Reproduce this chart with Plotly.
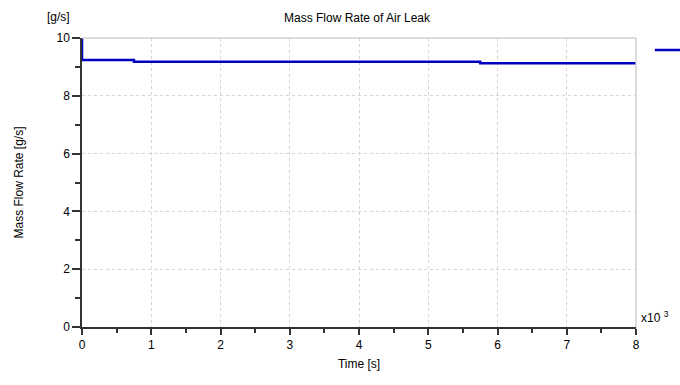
import plotly.graph_objects as go

# Data (time in seconds, mass flow in g/s)
time_s = [0, 0, 750, 5750, 8000]
flow_gs = [10.0, 9.24, 9.18, 9.13, 9.13]

x_tick_vals = [0, 1000, 2000, 3000, 4000, 5000, 6000, 7000, 8000]
x_tick_text = ["0", "1", "2", "3", "4", "5", "6", "7", "8"]
y_tick_vals = [0, 2, 4, 6, 8, 10]

FONT = "Liberation Sans"
AXIS = "#333333"
GRID = "#d4d4d4"

fig = go.Figure()
fig.add_trace(go.Scatter(
    x=time_s, y=flow_gs, mode="lines", line=dict(color="#0000c0", width=2.5, shape="hv"),
    name=" ", showlegend=True,
))

fig.update_layout(
    width=680, height=385,
    margin=dict(l=82, r=44, t=38, b=58, autoexpand=False),
    paper_bgcolor="white", plot_bgcolor="white",
    font=dict(family=FONT, size=12, color="#000000"),
    title=dict(text="Mass Flow Rate of Air Leak", x=357/680, xanchor="center",
               y=1 - 18/385, yanchor="middle", font=dict(size=12, family=FONT)),
    legend=dict(x=1.025, xanchor="left", y=1 - 12/289, yanchor="middle",
                bgcolor="rgba(0,0,0,0)", font=dict(size=12), itemwidth=30,
                tracegroupgap=0),
    showlegend=True,
)

fig.update_xaxes(
    range=[0, 8000], tickvals=x_tick_vals, ticktext=x_tick_text,
    showline=True, linecolor=AXIS, linewidth=1.5,
    ticks="outside", ticklen=6, tickcolor=AXIS, tickwidth=1.5,
    showgrid=True, gridcolor=GRID, griddash="dot", gridwidth=1,
    minor=dict(dtick=500, tick0=0, ticks="outside", ticklen=4, tickcolor=AXIS, showgrid=False),
    zeroline=False,
    title=dict(text="Time [s]", standoff=8, font=dict(size=12)),
    tickfont=dict(size=12),
)
fig.update_yaxes(
    range=[0, 10], tickvals=y_tick_vals,
    showline=True, linecolor=AXIS, linewidth=1.5,
    ticks="outside", ticklen=8, tickcolor=AXIS, tickwidth=1.5,
    showgrid=True, gridcolor=GRID, griddash="dot", gridwidth=1,
    minor=dict(dtick=1, tick0=0, ticks="outside", ticklen=5, tickcolor=AXIS, showgrid=False),
    zeroline=False,
    title=dict(text="Mass Flow Rate [g/s]", standoff=30, font=dict(size=12)),
    tickfont=dict(size=12),
)

# Top and right light border
fig.add_shape(type="line", xref="paper", yref="paper", x0=0, x1=1, y0=1, y1=1,
              line=dict(color="#d0d0d0", width=1.5))
fig.add_shape(type="line", xref="paper", yref="paper", x0=1, x1=1, y0=0, y1=1,
              line=dict(color="#d0d0d0", width=1.5))

fig.add_annotation(text="[g/s]", xref="paper", yref="paper", x=-0.018, y=1.04,
                   xanchor="right", yanchor="bottom", showarrow=False, font=dict(size=12))
fig.add_annotation(text="x10 <sup>3</sup>", xref="paper", yref="paper", x=1.005, y=0.0,
                   xanchor="left", yanchor="bottom", showarrow=False, font=dict(size=12))

fig.write_html("out.html")
